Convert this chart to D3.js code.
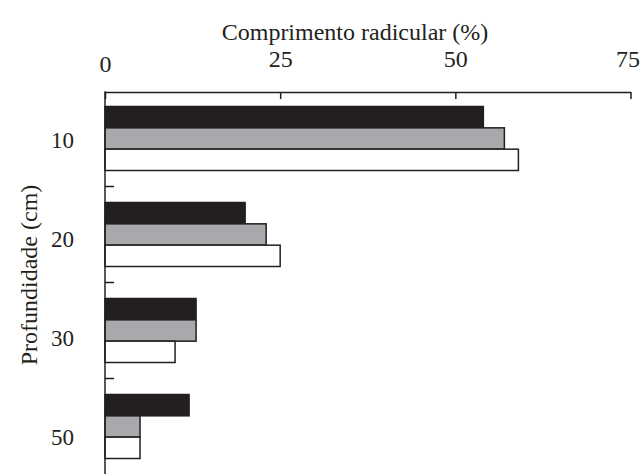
<!DOCTYPE html>
<html><head><meta charset="utf-8">
<script src="https://cdn.jsdelivr.net/npm/d3@7"></script>
<style>
html,body{margin:0;padding:0;background:#fff;}
svg{display:block;}
text{font-family:"Liberation Serif","Times New Roman",serif;fill:#231f20;}
</style></head>
<body>
<svg id="chart" width="641" height="474"></svg>
<script>
const depths = ["10", "20", "30", "50"];
const seriesNames = ["A", "B", "C"];
const seriesA = [54, 20, 13, 12];
const seriesB = [57, 23, 13, 5];
const seriesC = [59, 25, 10, 5];
const xTicks = [0, 25, 50, 75];
const xTitle = "Comprimento radicular (%)";
const yTitle = "Profundidade (cm)";
const colors = ["#231f20", "#a7a9ac", "#ffffff"];

const svg = d3.select("#chart");
const ink = "#231f20";
const x = d3.scaleLinear().domain([0, 75]).range([105, 630.5]);
const y = d3.scaleBand().domain(depths).range([90.5, 474.5]).paddingInner(1/3).paddingOuter(1/6);
const y1 = d3.scaleBand().domain(seriesNames).range([0, y.bandwidth()]);
const yLab = d3.scalePoint().domain(depths).range([140.5, 437]);

const rows = depths.map((d, i) => ({depth: d, values: [seriesA[i], seriesB[i], seriesC[i]]}));

// bars
const g = svg.append("g");
rows.forEach(r => {
  r.values.forEach((v, j) => {
    g.append("rect")
      .attr("x", x(0))
      .attr("y", y(r.depth) + y1(seriesNames[j]))
      .attr("width", x(v) - x(0))
      .attr("height", y1.bandwidth())
      .attr("fill", colors[j])
      .attr("stroke", ink)
      .attr("stroke-width", 1.5);
  });
});

// top axis
const xAxis = svg.append("g").attr("transform", "translate(0,92)")
  .call(d3.axisTop(x).tickValues(xTicks).tickSizeInner(-7).tickSizeOuter(0));
xAxis.select(".domain").attr("stroke", ink).attr("stroke-width", 1.5);
xAxis.selectAll(".tick line").attr("stroke", ink).attr("stroke-width", 1.5);
xAxis.selectAll(".tick text")
  .attr("y", d => d === 0 ? -20 : -25)
  .attr("dy", 0)
  .attr("font-size", 24)
  .attr("font-family", "Liberation Serif")
  .attr("fill", ink);
xAxis.selectAll(".tick text").filter(d => d === 75).attr("dx", -3);

// left axis labels
const yAxis = svg.append("g").attr("transform", "translate(105,0)")
  .call(d3.axisLeft(yLab).tickSize(0).tickPadding(31));
yAxis.select(".domain").remove();
yAxis.selectAll(".tick text")
  .attr("font-size", 23)
  .attr("font-family", "Liberation Serif")
  .attr("fill", ink)
  .attr("dy", "0.32em");

// left axis line
svg.append("line")
  .attr("x1", x(0)).attr("x2", x(0))
  .attr("y1", 91.25).attr("y2", 474)
  .attr("stroke", ink).attr("stroke-width", 1.5);

// ticks between groups
const gap = y.step() - y.bandwidth();
depths.slice(1).forEach(d => {
  const yy = y(d) - gap / 2;
  svg.append("line")
    .attr("x1", x(0)).attr("x2", x(0) + 9)
    .attr("y1", yy).attr("y2", yy)
    .attr("stroke", ink).attr("stroke-width", 1.5);
});

// titles
svg.append("text")
  .attr("x", 355).attr("y", 40)
  .attr("text-anchor", "middle")
  .attr("font-size", 24)
  .text(xTitle);

svg.append("text")
  .attr("transform", "translate(37,275) rotate(-90)")
  .attr("text-anchor", "middle")
  .attr("font-size", 24)
  .text(yTitle);
</script>
</body></html>
